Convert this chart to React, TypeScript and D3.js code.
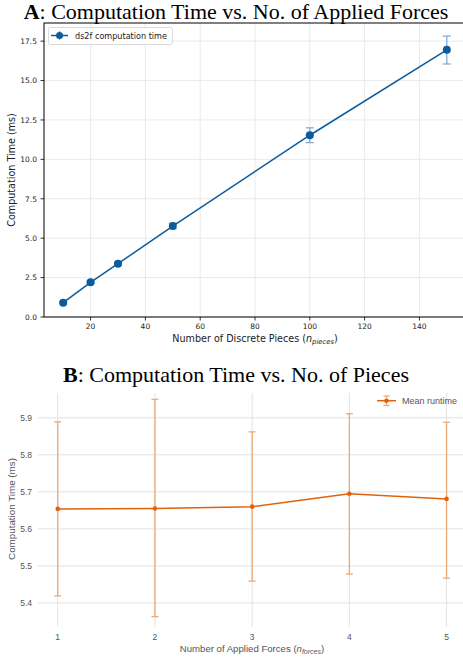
import React from "react";
import * as d3 from "d3";

// Chart A data
const piecesX = [10, 20, 30, 50, 100, 150];
const piecesMean = [0.91, 2.2, 3.38, 5.77, 11.53, 16.95];
const piecesLow = [0.85, 2.12, 3.3, 5.6, 11.06, 16.05];
const piecesHigh = [0.97, 2.28, 3.46, 5.95, 12.0, 17.82];
const aXTicks = [20, 40, 60, 80, 100, 120, 140];
const aYTicks = [0, 2.5, 5, 7.5, 10, 12.5, 15, 17.5];

// Chart B data
const forcesX = [1, 2, 3, 4, 5];
const forcesMean = [5.654, 5.655, 5.66, 5.695, 5.681];
const forcesLow = [5.419, 5.363, 5.459, 5.478, 5.467];
const forcesHigh = [5.889, 5.95, 5.862, 5.911, 5.888];
const bXTicks = [1, 2, 3, 4, 5];
const bYTicks = [5.4, 5.5, 5.6, 5.7, 5.8, 5.9];

const BLUE = "#0b5c9e";
const BLUE_ERR = "#7fa6cc";
const ORANGE = "#e0620c";
const ORANGE_ERR = "#eda46a";

function ChartA() {
  const x = d3.scaleLinear().domain([3, 157]).range([44, 466]);
  const y = d3.scaleLinear().domain([0, 18.65]).range([317, 23]);
  const line = d3
    .line<number>()
    .x((_, i) => x(piecesX[i]))
    .y((d) => y(d));
  const tickFont = "DejaVu Sans, sans-serif";
  return (
    <g>
      {aXTicks.map((t) => (
        <line key={"gx" + t} x1={x(t)} x2={x(t)} y1={23} y2={317} stroke="#e4e4e4" strokeWidth={0.8} />
      ))}
      {aYTicks.map((t) => (
        <line key={"gy" + t} x1={44} x2={466} y1={y(t)} y2={y(t)} stroke="#e4e4e4" strokeWidth={0.8} />
      ))}
      {piecesX.map((v, i) => (
        <g key={"e" + i} stroke={BLUE_ERR} strokeWidth={1.2}>
          <line x1={x(v)} x2={x(v)} y1={y(piecesLow[i])} y2={y(piecesHigh[i])} />
          <line x1={x(v) - 4} x2={x(v) + 4} y1={y(piecesLow[i])} y2={y(piecesLow[i])} />
          <line x1={x(v) - 4} x2={x(v) + 4} y1={y(piecesHigh[i])} y2={y(piecesHigh[i])} />
        </g>
      ))}
      <path d={line(piecesMean) || ""} fill="none" stroke={BLUE} strokeWidth={1.5} />
      {piecesX.map((v, i) => (
        <circle key={"p" + i} cx={x(v)} cy={y(piecesMean[i])} r={4} fill={BLUE} />
      ))}
      <rect x={44} y={23} width={422} height={294} fill="none" stroke="#000" strokeWidth={1} />
      {aXTicks.map((t) => (
        <g key={"tx" + t}>
          <line x1={x(t)} x2={x(t)} y1={317} y2={320.5} stroke="#000" strokeWidth={0.8} />
          <text x={x(t)} y={329} fontSize={7.5} fontFamily={tickFont} textAnchor="middle" fill="#222">
            {t}
          </text>
        </g>
      ))}
      {aYTicks.map((t) => (
        <g key={"ty" + t}>
          <line x1={40.5} x2={44} y1={y(t)} y2={y(t)} stroke="#000" strokeWidth={0.8} />
          <text x={37} y={y(t) + 2.8} fontSize={7.5} fontFamily={tickFont} textAnchor="end" fill="#222">
            {d3.format(".1f")(t)}
          </text>
        </g>
      ))}
      <text x={255} y={342} fontSize={9.6} fontFamily={tickFont} textAnchor="middle" fill="#222">
        Number of Discrete Pieces (
        <tspan fontStyle="italic">n</tspan>
        <tspan fontStyle="italic" fontSize={6.8} dy={2}>pieces</tspan>
        <tspan dy={-2}>)</tspan>
      </text>
      <text
        transform="translate(15,170) rotate(-90)"
        fontSize={9.6}
        fontFamily={tickFont}
        textAnchor="middle"
        fill="#222"
      >
        Computation Time (ms)
      </text>
      <rect x={48.5} y={27.5} width={124} height={17} rx={2} fill="#fff" fillOpacity={0.85} stroke="#d0d0d0" strokeWidth={0.8} />
      <line x1={51} x2={68} y1={35.5} y2={35.5} stroke={BLUE} strokeWidth={1.5} />
      <line x1={59.5} x2={59.5} y1={31} y2={40} stroke={BLUE_ERR} strokeWidth={1.2} />
      <circle cx={59.5} cy={35.5} r={3.5} fill={BLUE} />
      <text x={75} y={38.5} fontSize={8.1} fontFamily={tickFont} fill="#222">
        ds2f computation time
      </text>
      <text x={236} y={18.5} fontSize={22} fontFamily="Liberation Serif, Times New Roman, serif" textAnchor="middle" fill="#000">
        <tspan fontWeight="bold">A</tspan>: Computation Time vs. No. of Applied Forces
      </text>
    </g>
  );
}

function ChartB() {
  const x = d3.scaleLinear().domain([0.797, 5.2]).range([38, 466]);
  const y = d3.scaleLinear().domain([5.335, 5.967]).range([627, 393]);
  const line = d3
    .line<number>()
    .x((_, i) => x(forcesX[i]))
    .y((d) => y(d));
  const font = "Liberation Sans, Arial, sans-serif";
  return (
    <g>
      {bXTicks.map((t) => (
        <line key={"gx" + t} x1={x(t)} x2={x(t)} y1={393} y2={627} stroke="#e2e2e2" strokeWidth={1} />
      ))}
      {bYTicks.map((t) => (
        <line key={"gy" + t} x1={38} x2={466} y1={y(t)} y2={y(t)} stroke="#e2e2e2" strokeWidth={1} />
      ))}
      {forcesX.map((v, i) => (
        <g key={"e" + i} stroke={ORANGE_ERR} strokeWidth={1.2}>
          <line x1={x(v)} x2={x(v)} y1={y(forcesLow[i])} y2={y(forcesHigh[i])} />
          <line x1={x(v) - 3.5} x2={x(v) + 3.5} y1={y(forcesLow[i])} y2={y(forcesLow[i])} />
          <line x1={x(v) - 3.5} x2={x(v) + 3.5} y1={y(forcesHigh[i])} y2={y(forcesHigh[i])} />
        </g>
      ))}
      <path d={line(forcesMean) || ""} fill="none" stroke={ORANGE} strokeWidth={1.5} />
      {forcesX.map((v, i) => (
        <circle key={"p" + i} cx={x(v)} cy={y(forcesMean[i])} r={2.3} fill={ORANGE} />
      ))}
      {bXTicks.map((t) => (
        <text key={"tx" + t} x={x(t)} y={640} fontSize={8.5} fontFamily={font} textAnchor="middle" fill="#555">
          {t}
        </text>
      ))}
      {bYTicks.map((t) => (
        <text key={"ty" + t} x={32} y={y(t) + 3} fontSize={8.5} fontFamily={font} textAnchor="end" fill="#555">
          {d3.format(".1f")(t)}
        </text>
      ))}
      <text x={252} y={652} fontSize={9.6} fontFamily={font} textAnchor="middle" fill="#555">
        Number of Applied Forces (
        <tspan fontStyle="italic">n</tspan>
        <tspan fontStyle="italic" fontSize={7} dy={2}>forces</tspan>
        <tspan dy={-2}>)</tspan>
      </text>
      <text transform="translate(15,509) rotate(-90)" fontSize={9.8} fontFamily={font} textAnchor="middle" fill="#555">
        Computation Time (ms)
      </text>
      <line x1={377} x2={396} y1={400.7} y2={400.7} stroke={ORANGE} strokeWidth={1.5} />
      <line x1={386.5} x2={386.5} y1={396} y2={405.5} stroke={ORANGE_ERR} strokeWidth={1.2} />
      <line x1={383.5} x2={389.5} y1={396} y2={396} stroke={ORANGE_ERR} strokeWidth={1.2} />
      <line x1={383.5} x2={389.5} y1={405.5} y2={405.5} stroke={ORANGE_ERR} strokeWidth={1.2} />
      <circle cx={386.5} cy={400.7} r={2.3} fill={ORANGE} />
      <text x={402} y={404} fontSize={9} fontFamily={font} fill="#555">
        Mean runtime
      </text>
      <text x={236} y={382} fontSize={22} fontFamily="Liberation Serif, Times New Roman, serif" textAnchor="middle" fill="#000">
        <tspan fontWeight="bold">B</tspan>: Computation Time vs. No. of Pieces
      </text>
    </g>
  );
}

export default function App() {
  return (
    <svg
      width={463}
      height={662}
      style={{ position: "absolute", left: 0, top: 0, background: "#fff" }}
    >
      <rect width={463} height={662} fill="#fff" />
      <ChartA />
      <ChartB />
    </svg>
  );
}
